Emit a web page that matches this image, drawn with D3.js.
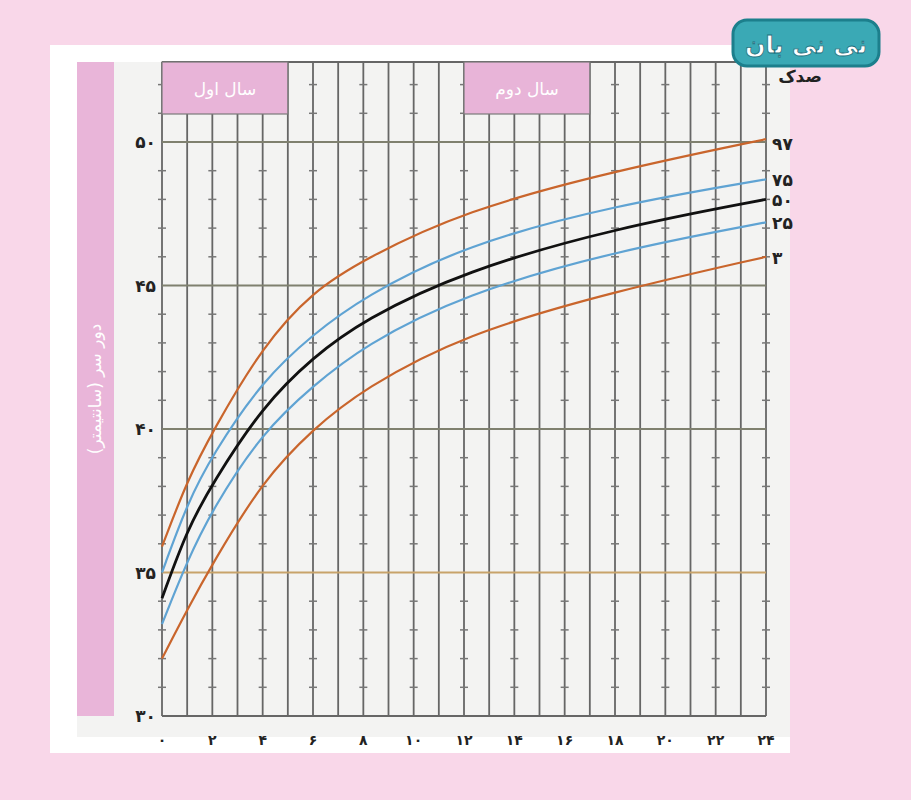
<!DOCTYPE html>
<html><head><meta charset="utf-8">
<script src="https://cdn.jsdelivr.net/npm/d3@7"></script>
<style>body{margin:0;background:#f9d7e9;} text{font-family:"DejaVu Sans",sans-serif;}</style>
</head><body>
<script>
/* data */
var months = [0, 1, 2, 4, 6, 8, 12, 18, 24];
var p97 = [35.9, 38.2, 39.9, 42.9, 44.8, 45.9, 47.6, 49.0, 50.1];
var p75 = [35.0, 37.4, 39.1, 41.7, 43.3, 44.6, 46.4, 47.8, 48.7];
var p50 = [34.1, 36.5, 38.1, 40.8, 42.5, 43.8, 45.5, 47.0, 48.0];
var p25 = [33.2, 35.4, 37.2, 39.9, 41.5, 42.9, 44.7, 46.2, 47.2];
var p3  = [32.0, 33.7, 35.3, 38.2, 40.0, 41.4, 43.3, 44.8, 46.0];
var seriesNames = ["۹۷", "۷۵", "۵۰", "۲۵", "۳"];
var seriesColors = ["#c9652c", "#5fa3d3", "#111111", "#5fa3d3", "#c9652c"];
var xTickLabels = ["۰","۲","۴","۶","۸","۱۰","۱۲","۱۴","۱۶","۱۸","۲۰","۲۲","۲۴"];
var yTickLabels = ["۳۰","۳۵","۴۰","۴۵","۵۰"];

var W = 911, H = 800;
var svg = d3.select("body").append("svg").attr("width", W).attr("height", H);

svg.append("rect").attr("width", W).attr("height", H).attr("fill", "#f9d7e9");
svg.append("rect").attr("x", 50).attr("y", 45).attr("width", 740).attr("height", 708).attr("fill", "#ffffff");
svg.append("rect").attr("x", 77).attr("y", 62).attr("width", 713).attr("height", 675).attr("fill", "#f3f3f2");
svg.append("rect").attr("x", 77).attr("y", 62).attr("width", 37).attr("height", 654).attr("fill", "#e9b5d9");
svg.append("text").attr("transform", "translate(101,389) rotate(-90)")
    .attr("text-anchor", "middle").attr("fill", "#fff").attr("font-size", 17)
    .text("دور سر (سانتیمتر)");

var x = d3.scaleLinear().domain([0, 24]).range([162, 766]);
var y = d3.scaleLinear().domain([30, 50]).range([716, 142]);
var yTop = 62;

var grid = svg.append("g");
grid.selectAll("line.v").data(d3.range(0, 25)).enter().append("line")
    .attr("x1", d => x(d)).attr("x2", d => x(d)).attr("y1", yTop).attr("y2", y(30))
    .attr("stroke", "#666").attr("stroke-width", 1.8);
grid.append("line").attr("x1", x(0)).attr("x2", x(24)).attr("y1", yTop).attr("y2", yTop).attr("stroke", "#666").attr("stroke-width", 1.8);
grid.append("line").attr("x1", x(0)).attr("x2", x(24)).attr("y1", y(30)).attr("y2", y(30)).attr("stroke", "#666").attr("stroke-width", 1.8);
grid.selectAll("line.h").data([35, 40, 45, 50]).enter().append("line")
    .attr("x1", x(0)).attr("x2", x(24)).attr("y1", d => y(d)).attr("y2", d => y(d))
    .attr("stroke", d => d == 35 ? "#c8a36a" : "#7f806f").attr("stroke-width", 1.8);
var minor = [];
d3.range(0, 25, 2).forEach(function(m){
  d3.range(31, 53).forEach(function(c){ if (c % 5 != 0) minor.push([m, c]); });
});
grid.selectAll("line.t").data(minor).enter().append("line")
    .attr("x1", d => x(d[0]) - 4).attr("x2", d => x(d[0]) + 4)
    .attr("y1", d => y(d[1])).attr("y2", d => y(d[1]))
    .attr("stroke", "#777").attr("stroke-width", 1.5);

[[0, "سال اول"], [12, "سال دوم"]].forEach(function(b){
  svg.append("rect").attr("x", x(b[0])).attr("y", yTop).attr("width", x(5) - x(0)).attr("height", 52)
     .attr("fill", "#e8b4d8").attr("stroke", "#7a7a7a").attr("stroke-width", 1.2);
  svg.append("text").attr("x", x(b[0] + 2.5)).attr("y", yTop + 33).attr("text-anchor", "middle")
     .attr("fill", "#fff").attr("font-size", 17).text(b[1]);
});

var all = [p97, p75, p50, p25, p3];
var line = d3.line().x((d, i) => x(months[i])).y(d => y(d)).curve(d3.curveBasis);
all.forEach(function(s, i){
  svg.append("path").attr("d", line(s)).attr("fill", "none")
     .attr("stroke", seriesColors[i]).attr("stroke-width", i == 2 ? 2.8 : 2.2);
  svg.append("text").attr("x", 772).attr("y", y(s[s.length - 1]) + 7 + (i==0?4:0))
     .attr("font-size", 17).attr("font-weight", "bold").attr("fill", "#222").text(seriesNames[i]);
});
svg.append("text").attr("x", 800).attr("y", 82).attr("text-anchor", "middle")
   .attr("font-size", 17).attr("font-weight", "bold").attr("fill", "#222").text("صدک");

svg.selectAll("text.xl").data(xTickLabels).enter().append("text")
   .attr("x", (d, i) => x(i * 2)).attr("y", 745).attr("text-anchor", "middle")
   .attr("font-size", 14).attr("font-weight", "bold").attr("fill", "#222").text(d => d);
svg.selectAll("text.yl").data(yTickLabels).enter().append("text")
   .attr("x", 156).attr("y", (d, i) => y(30 + i * 5) + 6).attr("text-anchor", "end")
   .attr("font-size", 17).attr("font-weight", "bold").attr("fill", "#222").text(d => d);

svg.append("rect").attr("x", 733).attr("y", 20).attr("width", 146).attr("height", 46).attr("rx", 14)
   .attr("fill", "#3aa9b5").attr("stroke", "#1c7f8c").attr("stroke-width", 3);
svg.append("text").attr("x", 806).attr("y", 53).attr("text-anchor", "middle")
   .attr("font-size", 24).attr("font-weight", "bold").attr("fill", "#fff")
   .attr("stroke", "#1c6f7c").attr("stroke-width", 0.8).text("نی نی بان");
</script>
</body></html>
